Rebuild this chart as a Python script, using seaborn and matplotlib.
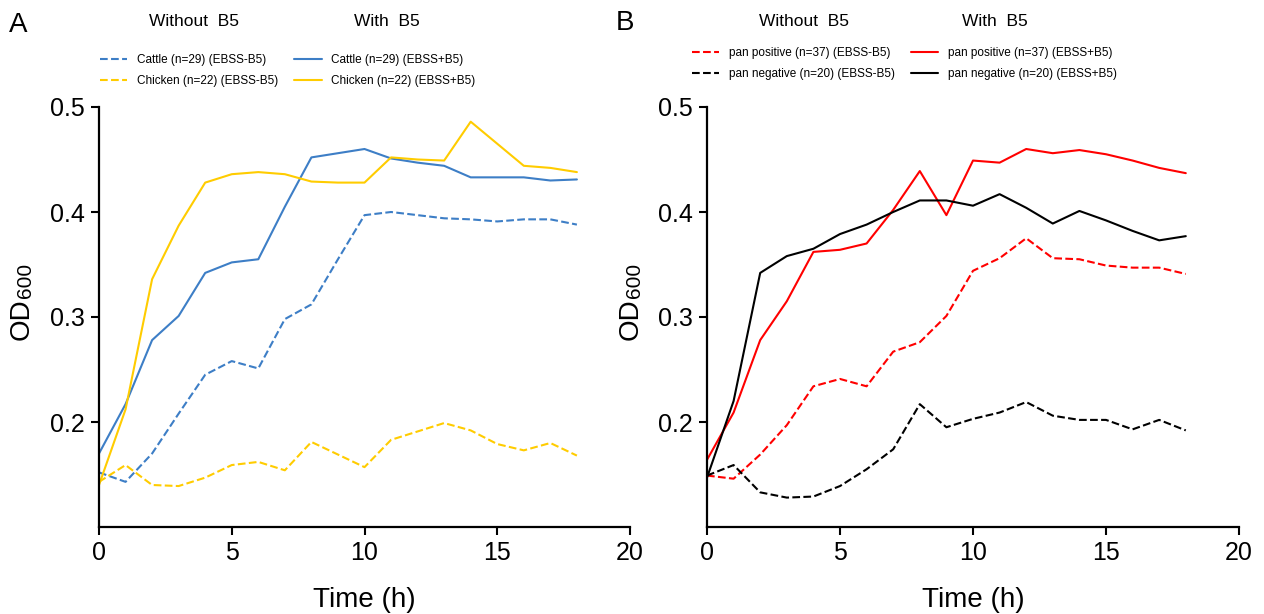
import numpy as np
import pandas as pd
import matplotlib
matplotlib.use("Agg")
import matplotlib.pyplot as plt
import seaborn as sns

# time points (h)
hours = list(range(19))

# panel A - host
cattle_minus = [0.152, 0.143, 0.170, 0.208, 0.245, 0.258, 0.251, 0.298, 0.312, 0.355,
                0.397, 0.400, 0.397, 0.394, 0.393, 0.391, 0.393, 0.393, 0.388]
chicken_minus = [0.143, 0.159, 0.140, 0.139, 0.147, 0.159, 0.162, 0.154, 0.181, 0.169,
                 0.157, 0.183, 0.191, 0.199, 0.192, 0.179, 0.173, 0.180, 0.168]
cattle_plus = [0.170, 0.217, 0.278, 0.301, 0.342, 0.352, 0.355, 0.405, 0.452, 0.456,
               0.460, 0.451, 0.447, 0.444, 0.433, 0.433, 0.433, 0.430, 0.431]
chicken_plus = [0.140, 0.212, 0.336, 0.387, 0.428, 0.436, 0.438, 0.436, 0.429, 0.428,
                0.428, 0.452, 0.450, 0.449, 0.486, 0.465, 0.444, 0.442, 0.438]

# panel B - pan genes
panpos_minus = [0.149, 0.146, 0.169, 0.197, 0.234, 0.241, 0.234, 0.267, 0.276, 0.301,
                0.344, 0.356, 0.375, 0.356, 0.355, 0.349, 0.347, 0.347, 0.341]
panneg_minus = [0.149, 0.159, 0.133, 0.128, 0.129, 0.139, 0.155, 0.174, 0.217, 0.195,
                0.203, 0.209, 0.219, 0.206, 0.202, 0.202, 0.193, 0.202, 0.192]
panpos_plus = [0.164, 0.209, 0.278, 0.315, 0.362, 0.364, 0.370, 0.402, 0.439, 0.397,
               0.449, 0.447, 0.460, 0.456, 0.459, 0.455, 0.449, 0.442, 0.437]
panneg_plus = [0.147, 0.220, 0.342, 0.358, 0.365, 0.379, 0.388, 0.400, 0.411, 0.411,
               0.406, 0.417, 0.404, 0.389, 0.401, 0.392, 0.382, 0.373, 0.377]

labels_A = ["Cattle (n=29) (EBSS-B5)", "Chicken (n=22) (EBSS-B5)",
            "Cattle (n=29) (EBSS+B5)", "Chicken (n=22) (EBSS+B5)"]
labels_B = ["pan positive (n=37) (EBSS-B5)", "pan negative (n=20) (EBSS-B5)",
            "pan positive (n=37) (EBSS+B5)", "pan negative (n=20) (EBSS+B5)"]

BLUE = "#3d7ec6"
YELLOW = "#ffcc00"
RED = "#ff0000"
BLACK = "#000000"

sns.set_theme(style="ticks")
plt.rcParams['font.family'] = ['Liberation Sans', 'DejaVu Sans']
plt.rcParams['text.color'] = 'black'
plt.rcParams['axes.labelcolor'] = 'black'
plt.rcParams['xtick.color'] = 'black'
plt.rcParams['ytick.color'] = 'black'

fig = plt.figure(figsize=(12.64, 6.14), dpi=100)
W, H = 1264, 614
axA = fig.add_axes([99 / W, 1 - 527 / H, 531 / W, 420 / H])
axB = fig.add_axes([707 / W, 1 - 527 / H, 532 / W, 420 / H])


def draw_panel(ax, series, labels, colors, styles):
    for vals, lab, col, ls in zip(series, labels, colors, styles):
        df = pd.DataFrame({"time": hours, "od": vals})
        sns.lineplot(data=df, x="time", y="od", ax=ax, color=col, linestyle=ls,
                     linewidth=1.5, label=lab, legend=False)
    ax.set_xlim(0, 20)
    ax.set_ylim(0.1, 0.5)
    ax.set_xticks([0, 5, 10, 15, 20])
    ax.set_yticks([0.2, 0.3, 0.4, 0.5])
    ax.set_yticklabels(["0.2", "0.3", "0.4", "0.5"])
    ax.tick_params(labelsize=18, width=1.5, length=6, color="black",
                   labelcolor="black", pad=4)
    for s in ["left", "bottom"]:
        ax.spines[s].set_linewidth(1.6)
        ax.spines[s].set_color("black")
    sns.despine(ax=ax)
    ax.set_xlabel("Time (h)", fontsize=20, labelpad=16, color="black")
    ax.set_ylabel("")


draw_panel(axA, [cattle_minus, chicken_minus, cattle_plus, chicken_plus], labels_A,
           [BLUE, YELLOW, BLUE, YELLOW], ["--", "--", "-", "-"])
draw_panel(axB, [panpos_minus, panneg_minus, panpos_plus, panneg_plus], labels_B,
           [RED, BLACK, RED, BLACK], ["--", "--", "-", "-"])

# y labels "OD" + smaller "600" (rotated, read bottom to top)
for xpos in [35, 644]:
    fig.text(xpos / W, 1 - 298 / H, "OD", rotation=90, fontsize=20,
             ha="right", va="top")
    fig.text(xpos / W, 1 - 298 / H, "600", rotation=90, fontsize=15,
             ha="right", va="bottom")

# panel letters
fig.text(9 / W, 1 - 38 / H, "A", fontsize=20, ha="left", va="bottom")
fig.text(616 / W, 1 - 36 / H, "B", fontsize=20, ha="left", va="bottom")

# column headers
for x, t in [(194, "Without  B5"), (387, "With  B5"), (804, "Without  B5"), (995, "With  B5")]:
    fig.text(x / W, 1 - 22 / H, t, fontsize=12.5, ha="center", va="center")

# legends
for ax, x0, y0 in [(axA, 100, 54), (axB, 692, 47)]:
    h, l = ax.get_legend_handles_labels()
    leg = fig.legend(h, l, ncol=2, loc="upper left", bbox_to_anchor=(x0 / W, 1 - y0 / H),
                     frameon=False, fontsize=8.5, borderpad=0, borderaxespad=0,
                     handlelength=2.3, handletextpad=0.8, columnspacing=1.4,
                     labelspacing=0.75)
    for t in leg.get_texts():
        t.set_color("black")

fig.savefig("out.png", dpi=100)
